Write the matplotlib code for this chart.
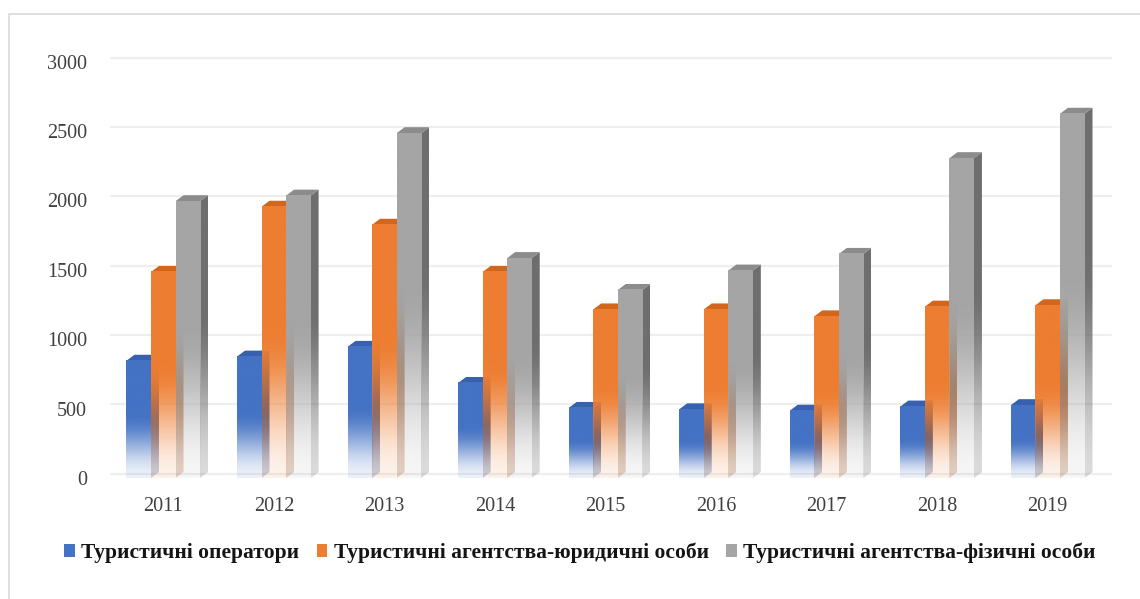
import numpy as np
import matplotlib
matplotlib.use("Agg")
import matplotlib.pyplot as plt
from matplotlib.patches import Polygon, Patch, Rectangle
from matplotlib.colors import to_rgb

# ---- data ----
years = ["2011", "2012", "2013", "2014", "2015", "2016", "2017", "2018", "2019"]
operators = [845, 875, 945, 685, 505, 495, 485, 515, 525]
agencies_legal = [1485, 1955, 1825, 1485, 1215, 1215, 1165, 1235, 1245]
agencies_individual = [1995, 2035, 2485, 1585, 1355, 1495, 1615, 2305, 2625]
series_names = ["Туристичні оператори",
                "Туристичні агентства-юридичні особи",
                "Туристичні агентства-фізичні особи"]
yticks = [0, 500, 1000, 1500, 2000, 2500, 3000]

front_colors = ["#4472C4", "#ED7D31", "#A5A5A5"]
top_colors = ["#3760AE", "#D2661C", "#8C8C8C"]
side_colors = ["#2B4C8C", "#A4501A", "#6E6E6E"]

W, H = 1140, 599
fig = plt.figure(figsize=(W / 100, H / 100), dpi=100)
fig.patch.set_facecolor("white")

# outer light frame
fig.add_artist(Rectangle((9 / W, -0.05), 1.2, (H - 14) / H + 0.05, transform=fig.transFigure,
                         fill=False, edgecolor="#d9d9d9", lw=1.2))

ax = fig.add_axes([108 / W, 121 / H, 995 / W, 416.3 / H])
ax.set_xlim(-0.5, len(years) - 0.5)
ax.set_ylim(0, 3000)
for s in ax.spines.values():
    s.set_visible(False)
ax.set_facecolor("none")

bw = 0.222
dx = 0.072
dy = 43.0

# back-wall gridlines
for v in yticks:
    ax.plot([-0.47, len(years) - 0.5 + dx], [v + dy * 0.7, v + dy * 0.7], color="#eeeeee",
            lw=1.6, zorder=0, clip_on=False, solid_capstyle="round")

N = 256
t = np.linspace(0, 1, N)


def smooth(u):
    u = np.clip(u, 0, 1)
    return u * u * (3 - 2 * u)


def grad_img(color, a0, a1, frac):
    r, g, b = to_rgb(color)
    alpha = a0 + (a1 - a0) * smooth(t / frac)
    img = np.zeros((N, 1, 4))
    img[:, 0, 0] = r
    img[:, 0, 1] = g
    img[:, 0, 2] = b
    img[:, 0, 3] = alpha
    return img


series = [operators, agencies_legal, agencies_individual]
z = 1
for i in range(len(years)):
    for k, vals in enumerate(series):
        v = vals[i]
        x0 = i + (k - 1.5) * bw
        x1 = x0 + bw
        # side face
        side = Polygon([[x1, 0], [x1 + dx, dy], [x1 + dx, v + dy], [x1, v]], closed=True,
                       transform=ax.transData, facecolor="none", edgecolor="none")
        ax.add_patch(side)
        im = ax.imshow(grad_img(side_colors[k], 0.25, 1.0, 0.6), extent=[x1, x1 + dx, 0, v + dy],
                       origin="lower", aspect="auto", interpolation="bilinear", zorder=z)
        im.set_clip_path(side)
        z += 1
        # top face
        ax.add_patch(Polygon([[x0, v], [x1, v], [x1 + dx, v + dy], [x0 + dx, v + dy]],
                             closed=True, facecolor=top_colors[k], edgecolor="none",
                             zorder=z, clip_on=False))
        z += 1
        # front face
        ax.imshow(grad_img(front_colors[k], 0.1, 1.0, 0.55), extent=[x0, x1, 0, v],
                  origin="lower", aspect="auto", interpolation="bilinear", zorder=z)
        z += 1

ax.set_xlim(-0.5, len(years) - 0.5)
ax.set_ylim(0, 3000)
ax.set_xticks(range(len(years)))
ax.set_xticklabels(years)
ax.set_yticks(yticks)
ax.set_yticklabels([str(v) for v in yticks])
ax.tick_params(length=0, colors="#404040")
ax.tick_params(axis="x", pad=14)
ax.tick_params(axis="y", pad=15)
for lab in ax.get_xticklabels() + ax.get_yticklabels():
    lab.set_fontfamily("Liberation Serif")
    lab.set_fontsize(14.5)
    lab.set_color("#404040")

handles = [Patch(facecolor=c, edgecolor="none") for c in front_colors]
leg = fig.legend(handles, series_names, loc="center", bbox_to_anchor=(580 / W, 46 / H),
                 ncol=3, frameon=False, handlelength=0.5, handleheight=0.5,
                 handletextpad=0.3, columnspacing=0.8,
                 prop={"family": "Liberation Serif", "weight": "bold", "size": 15.5})
for txt in leg.get_texts():
    txt.set_color("#141414")

fig.savefig("out.png", dpi=100, facecolor="white")
